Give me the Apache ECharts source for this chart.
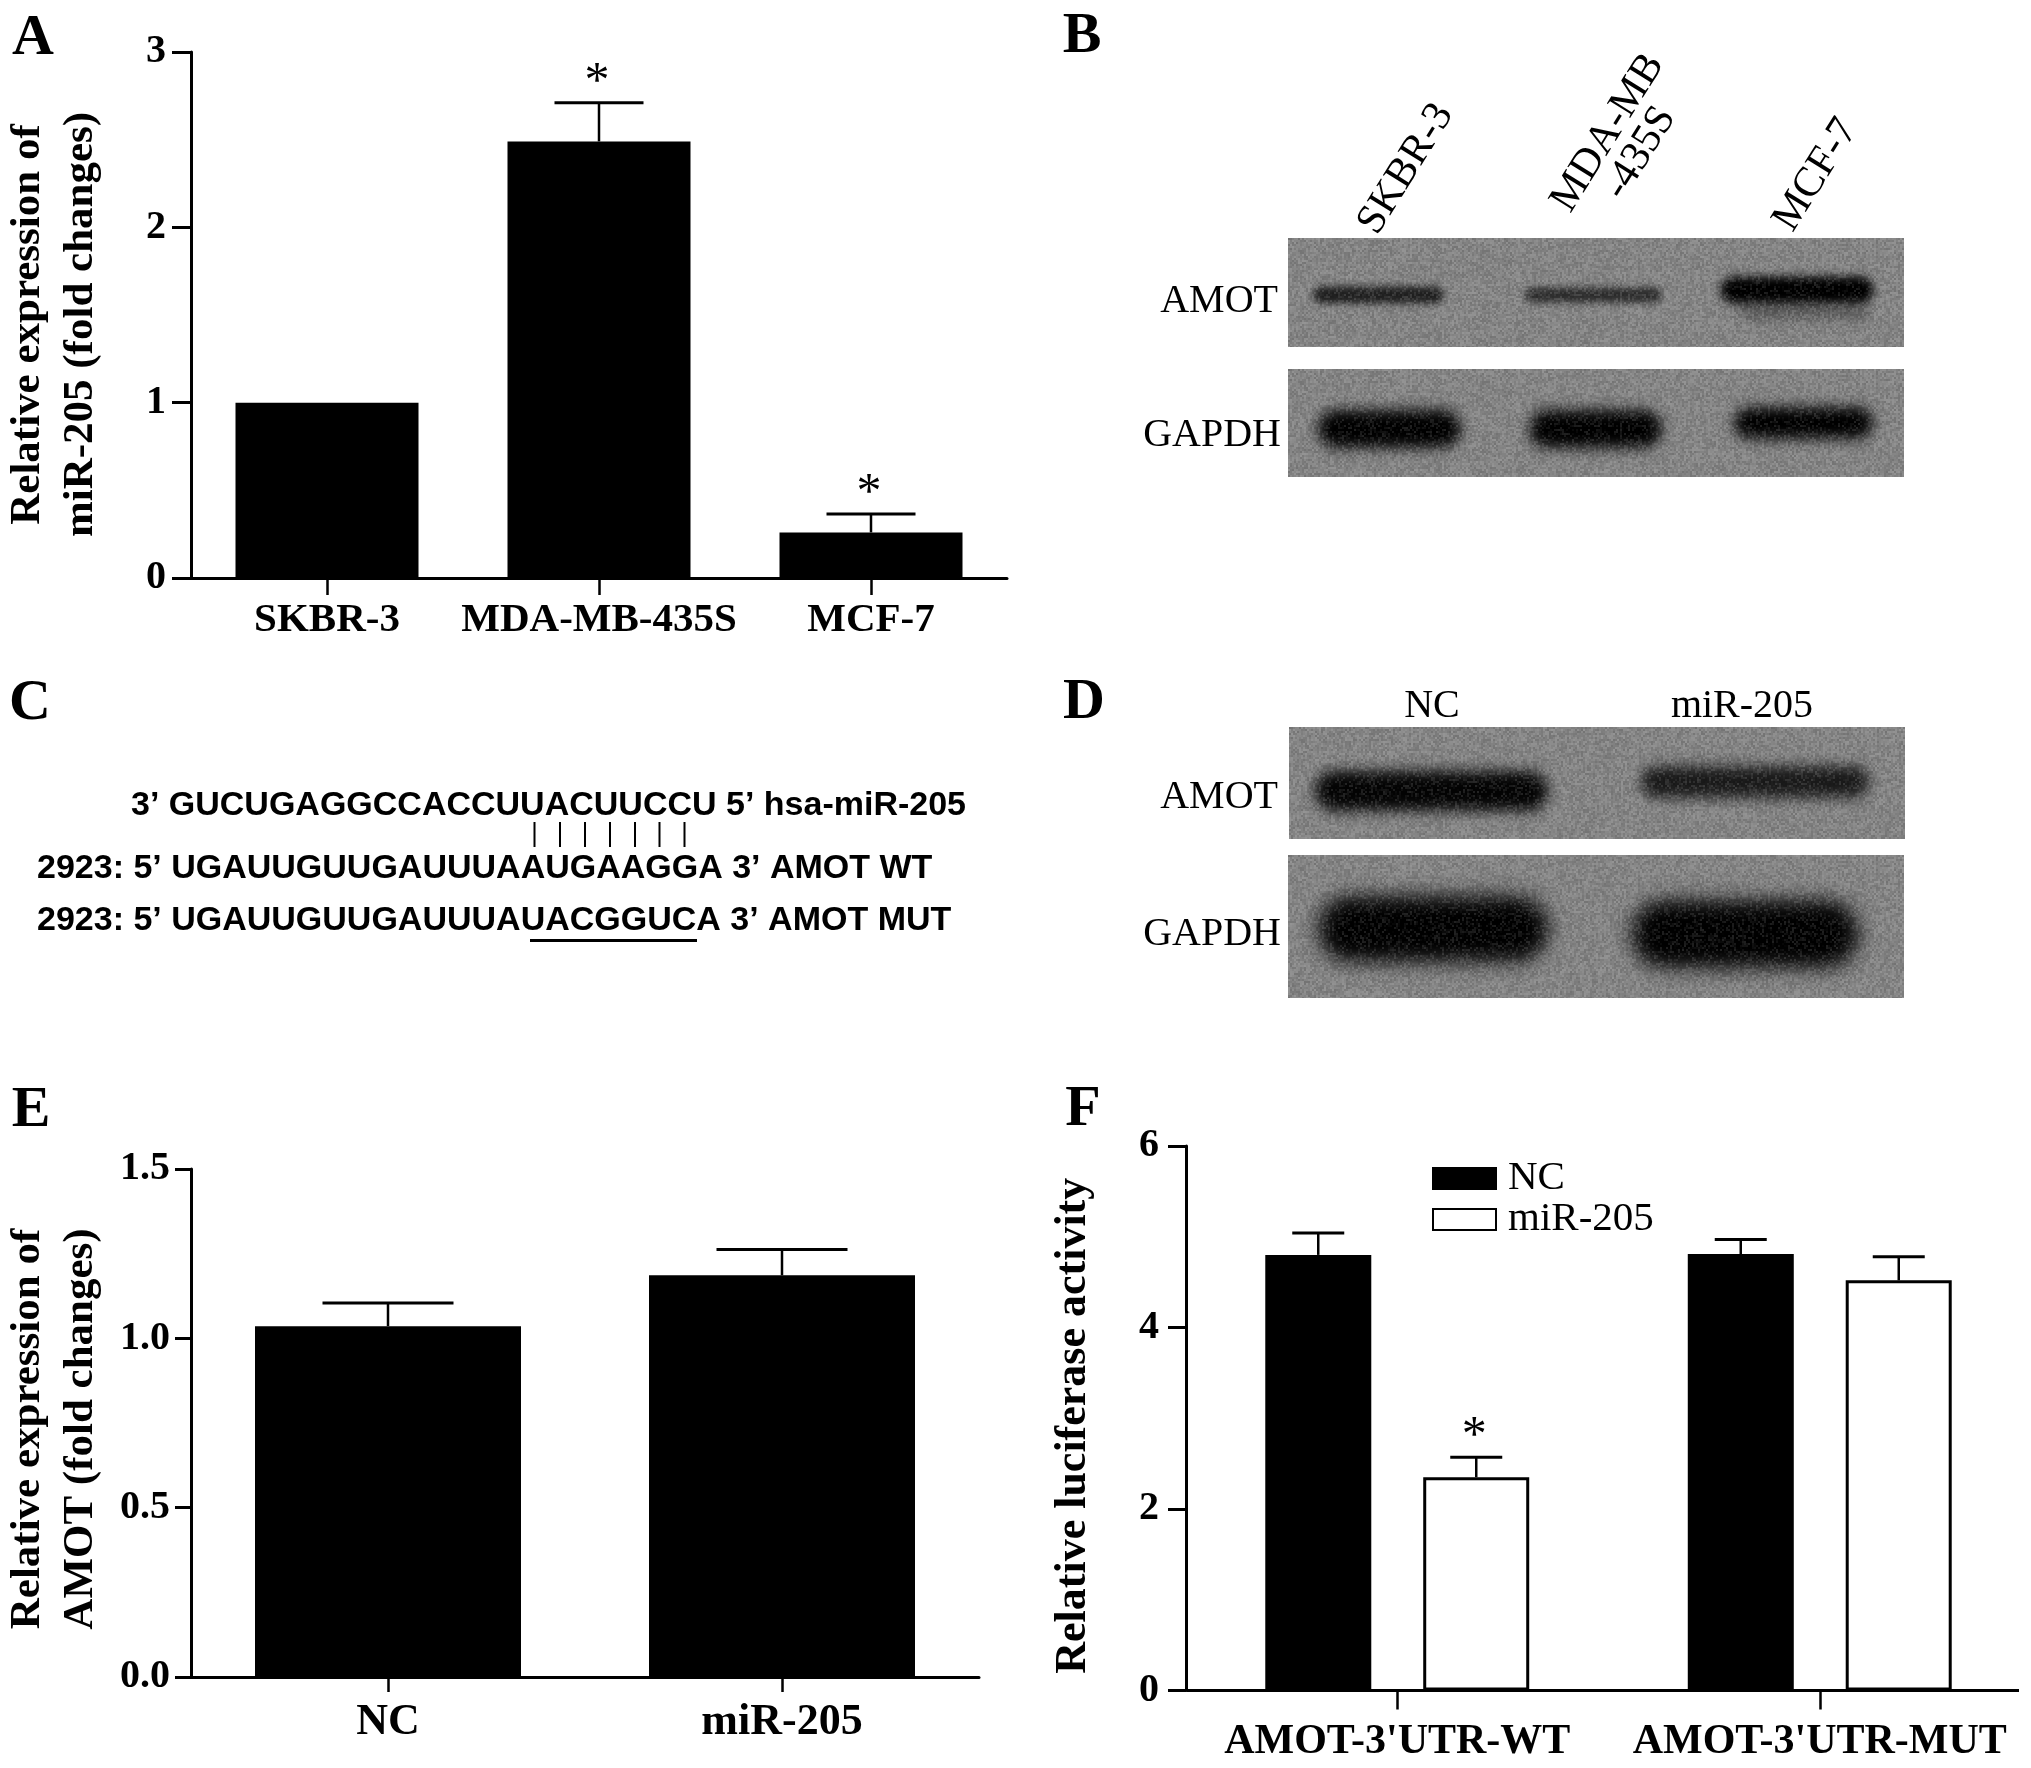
<!DOCTYPE html>
<html>
<head>
<meta charset="utf-8">
<style>html,body{margin:0;padding:0;background:#fff}#c{width:2031px;height:1768px}</style>
<script src="https://cdn.jsdelivr.net/npm/echarts@6/dist/echarts.min.js"></script>
</head>
<body>
<div id="c"></div>
<script>
// ---- data ----
const catsA = ['SKBR-3', 'MDA-MB-435S', 'MCF-7'];
const meanA = [1.0, 2.49, 0.26];
const upperA = [null, 2.71, 0.365];
const starA = [0, 1, 1];

const catsE = ['NC', 'miR-205'];
const meanE = [1.036, 1.186];
const upperE = [1.104, 1.262];

const catsF = ["AMOT-3'UTR-WT", "AMOT-3'UTR-MUT"];
const meanNC = [4.80, 4.81];
const upperNC = [5.04, 4.97];
const meanMiR = [2.35, 4.52];
const upperMiR = [2.57, 4.78];
const starMiR = [1, 0];

const titleA = 'Relative expression of\nmiR-205 (fold changes)';
const titleE = 'Relative expression of\nAMOT (fold changes)';
const titleF = 'Relative luciferase activity';

const seqLines = [
  "3\u2019 GUCUGAGGCCACCUUACUUCCU 5\u2019 hsa-miR-205",
  "2923: 5\u2019 UGAUUGUUGAUUUAAUGAAGGA 3\u2019 AMOT WT",
  "2923: 5\u2019 UGAUUGUUGAUUUAUACGGUCA 3\u2019 AMOT MUT"
];

// ---- style helpers ----
const SERIF = '"Liberation Serif","Times New Roman",serif';
const SANS = '"Liberation Sans",Arial,sans-serif';

function errData(mean, upper, star) {
  return mean.map((m, i) => [i, m, upper[i] == null ? m : upper[i], star ? star[i] : 0, upper[i] == null ? 0 : 1]);
}
function errSeries(name, gridIndex, data, capW, offsetPx) {
  return {
    name, type: 'custom', xAxisIndex: gridIndex, yAxisIndex: gridIndex, clip: false, silent: true, z: 5,
    data,
    encode: { x: 0, y: [1, 2] },
    renderItem(params, api) {
      const base = api.coord([api.value(0), api.value(1)]);
      const top = api.coord([api.value(0), api.value(2)]);
      const x = base[0] + offsetPx;
      const kids = [];
      if (api.value(4)) {
        kids.push({ type: 'line', shape: { x1: x, y1: base[1], x2: x, y2: top[1] }, style: { stroke: '#000', lineWidth: 2.5 } });
        kids.push({ type: 'line', shape: { x1: x - capW / 2, y1: top[1], x2: x + capW / 2, y2: top[1] }, style: { stroke: '#000', lineWidth: 3 } });
      }
      if (api.value(3)) {
        kids.push({ type: 'text', style: { text: '*', x: x - 2, y: top[1] + 5, align: 'center', verticalAlign: 'bottom', font: '50px ' + SERIF, fill: '#000' } });
      }
      return { type: 'group', children: kids };
    }
  };
}
function xAxis(gridIndex, data, fontSize, tickLen, margin, showLine) {
  return {
    type: 'category', gridIndex, data,
    axisLine: { show: showLine !== false, onZero: false, lineStyle: { color: '#000', width: 3 } },
    axisTick: { show: true, alignWithLabel: true, length: tickLen, lineStyle: { color: '#000', width: 2.5 } },
    axisLabel: { color: '#000', fontFamily: SERIF, fontWeight: 'bold', fontSize, margin, interval: 0, hideOverlap: false },
    splitLine: { show: false }
  };
}
function yAxis(gridIndex, max, interval, digits, name, nameGap, nameSize, nameShift, tickLen, margin) {
  return {
    type: 'value', gridIndex, min: 0, max, interval,
    name, nameLocation: 'middle', nameRotate: 90, nameGap, nameMoveOverlap: false,
    nameTextStyle: { color: '#000', fontFamily: SERIF, fontWeight: 'bold', fontSize: nameSize, lineHeight: 53, padding: [0, nameShift, 0, 0] },
    axisLine: { show: true, onZero: false, lineStyle: { color: '#000', width: 3 } },
    axisTick: { show: true, length: tickLen, lineStyle: { color: '#000', width: 3 } },
    axisLabel: { color: '#000', fontFamily: SERIF, fontWeight: 'bold', fontSize: 40, margin, formatter: v => v.toFixed(digits) },
    splitLine: { show: false }
  };
}

// ---- blot drawing (decoration, not data) ----
function grainCanvas(w, h) {
  const c = document.createElement('canvas');
  c.width = w; c.height = h;
  const g = c.getContext('2d');
  for (let y = 0; y < h; y += 2) for (let x = 0; x < w; x += 2) {
    const s = Math.abs(Math.sin(x * 12.9898 + y * 78.233) * 43758.5453) % 1;
    g.fillStyle = s > 0.5 ? 'rgba(255,255,255,' + ((s - 0.5) * 0.26) + ')' : 'rgba(0,0,0,' + ((0.5 - s) * 0.26) + ')';
    g.fillRect(x, y, 2, 2);
  }
  return c;
}
// band: b = [x, y, w, h, blur sigma, darkness 0..1], all in page pixels; x,y,w,h = visible extent
function blot(x, y, w, h, bands) {
  const c = document.createElement('canvas');
  c.width = w; c.height = h;
  const g = c.getContext('2d');
  g.fillStyle = '#858585';
  g.fillRect(0, 0, w, h);
  bands.forEach(b => {
    const s = b[4], ins = s * 0.7;
    g.save();
    g.filter = 'blur(' + s + 'px)';
    g.globalAlpha = b[5];
    g.fillStyle = '#000';
    g.beginPath();
    const rh = Math.max(2, b[3] - 2 * ins);
    g.roundRect(b[0] - x + ins, b[1] - y + ins, b[2] - 2 * ins, rh, rh / 2);
    g.fill();
    g.restore();
  });
  g.save();
  g.filter = 'blur(0.6px)';
  g.drawImage(grainCanvas(w, h), 0, 0);
  g.restore();
  return { type: 'image', z: 2, silent: true, style: { image: c, x, y, width: w, height: h } };
}
function txt(text, x, y, font, opts) {
  return {
    type: 'text', z: 6, silent: true, x, y, rotation: (opts && opts.rot) || 0,
    style: { text, x: 0, y: 0, font, fill: '#000', align: (opts && opts.align) || 'center', verticalAlign: 'middle', lineHeight: opts && opts.lh }
  };
}
function line(x1, y1, x2, y2, w) {
  return { type: 'line', z: 6, silent: true, shape: { x1, y1, x2, y2 }, style: { stroke: '#000', lineWidth: w } };
}

const lblFont = '40px ' + SERIF;
const rotFont = '42px ' + SERIF;
const letterFont = 'bold 58px ' + SERIF;
const seqFont = 'bold 34px ' + SANS;
const deg = Math.PI / 180;

const graphics = [
  txt('A', 33, 39, letterFont),
  txt('B', 1082, 37, letterFont),
  txt('C', 30, 704, letterFont),
  txt('D', 1084, 703, letterFont),
  txt('E', 31, 1111, letterFont),
  txt('F', 1083, 1110, letterFont),

  // B
  blot(1288, 238, 616, 109, [
    [1311, 284, 135, 22, 3.5, 0.75],
    [1522, 285, 142, 20, 3.5, 0.65],
    [1717, 273, 160, 34, 5, 1],
    [1735, 298, 138, 26, 6, 0.3]
  ]),
  blot(1288, 369, 616, 108, [
    [1313, 405, 153, 48, 7, 1],
    [1524, 405, 143, 48, 7, 1],
    [1729, 402, 149, 42, 7, 1]
  ]),
  txt('AMOT', 1278, 301, lblFont, { align: 'right' }),
  txt('GAPDH', 1281, 435, lblFont, { align: 'right' }),
  txt('SKBR-3', 1406, 169, rotFont, { rot: 58 * deg }),
  txt('MDA-MB\n-435S', 1624, 143, rotFont, { rot: 58 * deg, lh: 38 }),
  txt('MCF-7', 1816, 175, rotFont, { rot: 58 * deg }),

  // C
  txt(seqLines[0], 131, 805.5, seqFont, { align: 'left' }),
  txt(seqLines[1], 37, 868.5, seqFont, { align: 'left' }),
  txt(seqLines[2], 37, 920.5, seqFont, { align: 'left' }),
  line(534.5, 822, 534.5, 847, 2),
  line(560, 822, 560, 847, 2),
  line(585, 822, 585, 847, 2),
  line(610, 822, 610, 847, 2),
  line(635, 822, 635, 847, 2),
  line(659.5, 822, 659.5, 847, 2),
  line(684.5, 822, 684.5, 847, 2),
  line(530, 940.5, 697, 940.5, 3),

  // D
  blot(1289, 727, 616, 112, [
    [1310, 766, 243, 50, 7, 0.97],
    [1636, 761, 238, 42, 7, 0.8]
  ]),
  blot(1288, 855, 616, 143, [
    [1311, 889, 245, 80, 10, 1],
    [1624, 893, 242, 82, 10, 1]
  ]),
  txt('NC', 1432, 706, lblFont),
  txt('miR-205', 1742, 706, lblFont),
  txt('AMOT', 1278, 797, lblFont, { align: 'right' }),
  txt('GAPDH', 1281, 934, lblFont, { align: 'right' }),

  // F baseline: the reference's x axis stops short of the category band
  line(1187, 1690.5, 2019, 1690.5, 3)
];

const option = {
  animation: false,
  backgroundColor: '#fff',
  textStyle: { fontFamily: SERIF },
  grid: [
    { left: 191, top: 52, width: 816, height: 526 },
    { left: 187, top: 1169, width: 792, height: 508 },
    { left: 1186, top: 1146, width: 846, height: 544.5 }
  ],
  xAxis: [
    xAxis(0, catsA, 41, 17, 22),
    xAxis(1, catsE, 44, 15, 24),
    xAxis(2, catsF, 42, 19, 31, false)
  ],
  yAxis: [
    yAxis(0, 3, 1, 0, titleA, 84, 43, 19, 19, 25),
    yAxis(1, 1.5, 0.5, 1, titleE, 84, 43, 12, 16, 21),
    yAxis(2, 6, 2, 0, titleF, 86, 44, 15, 18, 27)
  ],
  legend: {
    data: ['NC', 'miR-205'], orient: 'vertical', left: 1432, top: 1158, itemWidth: 63, itemHeight: 21, itemGap: 0,
    selectedMode: false, icon: 'rect', padding: 0,
    textStyle: { color: '#000', fontFamily: SERIF, fontSize: 41, padding: [0, 0, 0, 7] }
  },
  series: [
    { name: 'A', type: 'bar', xAxisIndex: 0, yAxisIndex: 0, data: meanA, barWidth: 183, itemStyle: { color: '#000' }, silent: true },
    errSeries('A err', 0, errData(meanA, upperA, starA), 89, 0),
    { name: 'E', type: 'bar', xAxisIndex: 1, yAxisIndex: 1, data: meanE, barWidth: 266, itemStyle: { color: '#000' }, silent: true },
    errSeries('E err', 1, errData(meanE, upperE), 131, 0),
    { name: 'NC', type: 'bar', xAxisIndex: 2, yAxisIndex: 2, data: meanNC, barWidth: 106, barGap: '49%', itemStyle: { color: '#000', borderColor: '#000', borderWidth: 3 }, silent: true },
    { name: 'miR-205', type: 'bar', xAxisIndex: 2, yAxisIndex: 2, data: meanMiR, barWidth: 106, barGap: '49%', itemStyle: { color: '#fff', borderColor: '#000', borderWidth: 3 }, silent: true },
    errSeries('NC err', 2, errData(meanNC, upperNC), 52, -79),
    errSeries('miR err', 2, errData(meanMiR, upperMiR, starMiR), 52, 79)
  ],
  graphic: { elements: graphics }
};
const chart = echarts.init(document.getElementById('c'), null, { renderer: 'canvas', width: 2031, height: 1768 });
chart.setOption(option);
</script>
</body>
</html>
